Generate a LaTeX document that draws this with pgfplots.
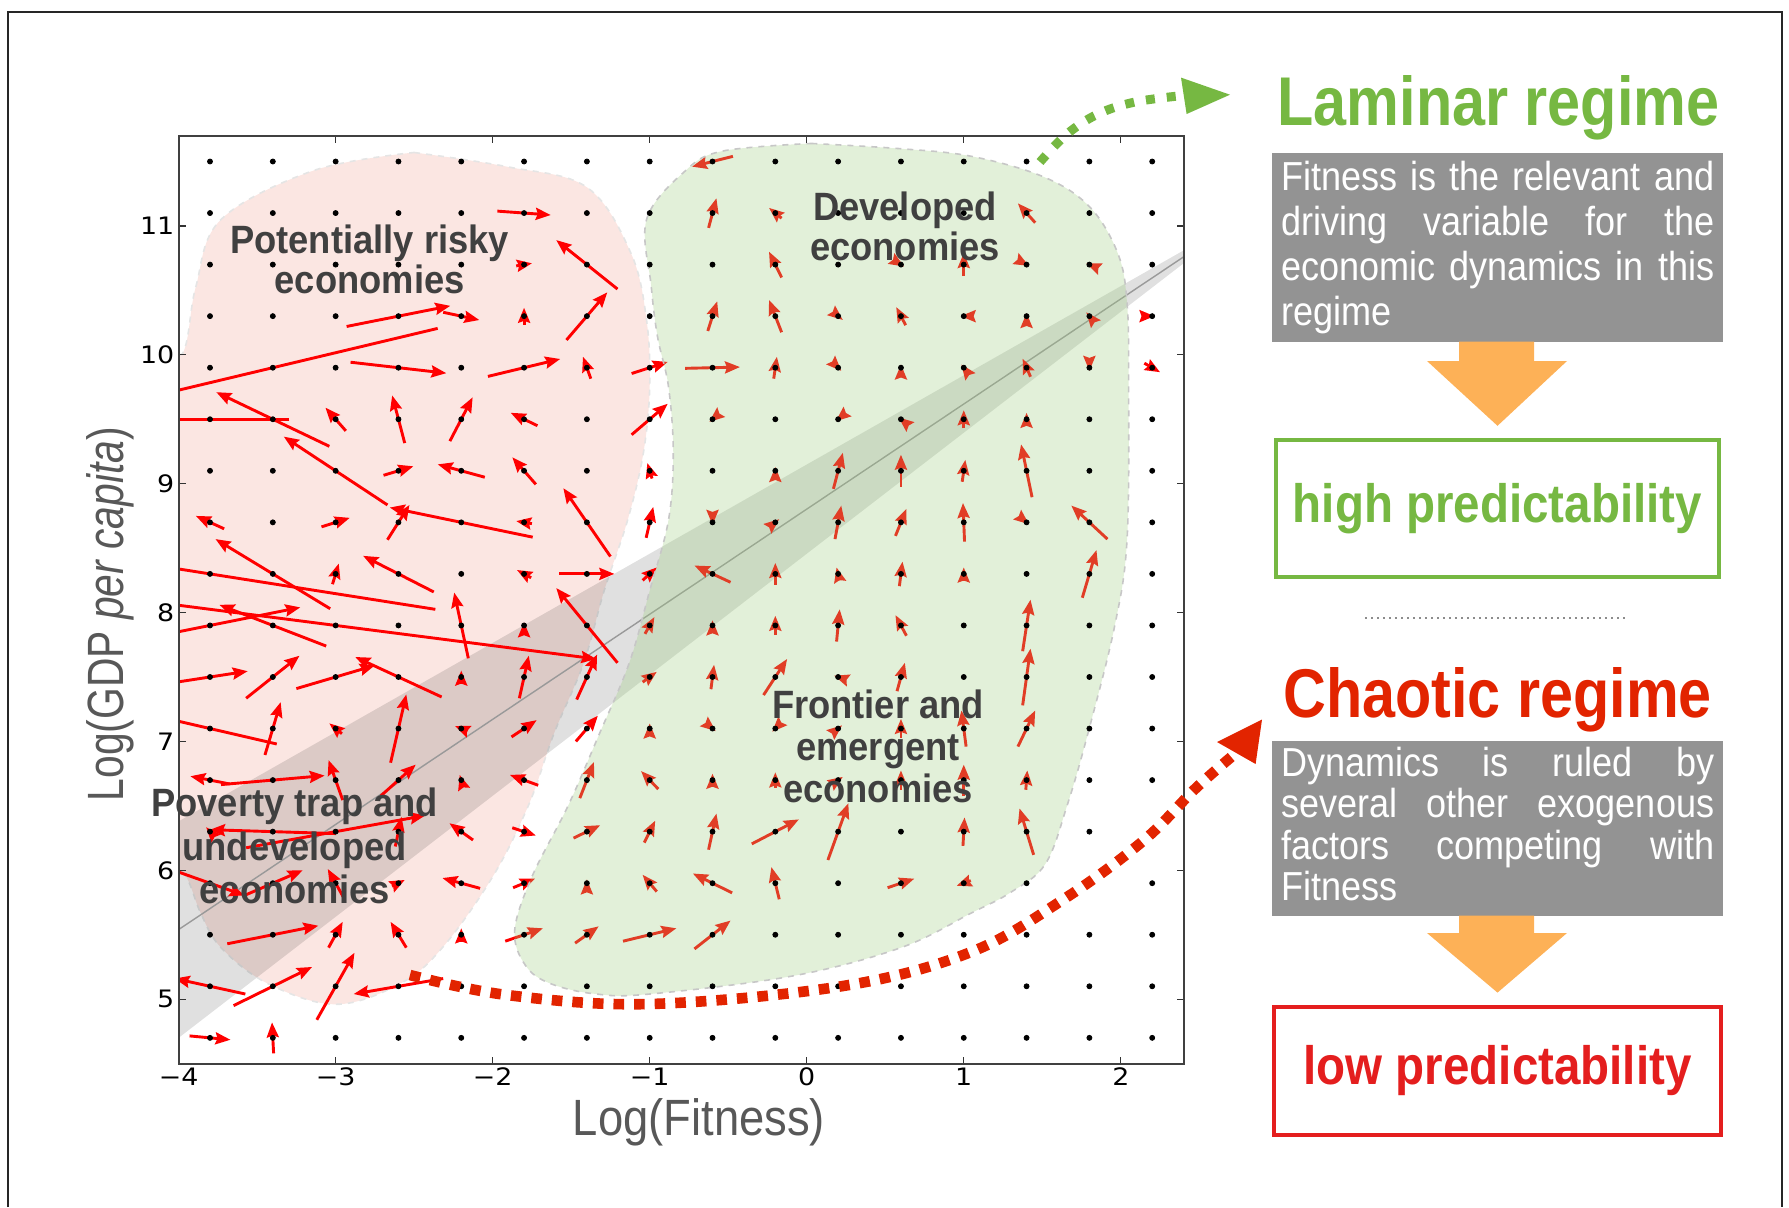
\documentclass[border=0pt]{standalone}
\usepackage{fontspec}
\usepackage{pgfplots}
\pgfplotsset{compat=1.18}
\usepackage{pgfplotstable}
\usetikzlibrary{arrows.meta}
\setmainfont{Liberation Sans}
\newfontfamily\tickfont[FakeStretch=1.12]{DejaVu Sans}
\newfontfamily\labfont[FakeStretch=0.89]{Liberation Sans}
\newfontfamily\ylabfont[FakeStretch=0.80]{Liberation Sans}
\newfontfamily\boxfont[FakeStretch=0.89]{Liberation Sans}
\newfontfamily\regfont[FakeStretch=0.92]{Liberation Sans}
\newfontfamily\headfont[FakeStretch=0.86]{Liberation Sans}
\newfontfamily\predfont[FakeStretch=0.88]{Liberation Sans}

\definecolor{pinkreg}{RGB}{251,230,226}
\definecolor{greenov}{RGB}{158,205,128}
\definecolor{lamgreen}{RGB}{118,184,66}
\definecolor{chared}{RGB}{226,36,0}
\definecolor{lowred}{RGB}{228,30,30}
\definecolor{boxgrey}{RGB}{147,147,147}
\definecolor{orangearr}{RGB}{253,177,87}
\definecolor{labgrey}{RGB}{88,88,88}
\definecolor{reggrey}{RGB}{64,64,64}

% quiver field: grid point (x,y), vector (u,v); arrows are centred on the point
\pgfplotstableread{
x y u v
-1.8 11.1 0.34 -0.03
-1.8 10.7 0.10 0.02
-1.4 10.7 -0.39 0.38
-2.6 10.3 0.66 0.16
-2.2 10.3 0.23 -0.06
-1.8 10.3 0.00 0.13
-1.4 10.3 0.26 0.37
-3.4 9.9 -2.10 -0.61
-2.6 9.9 0.61 -0.085
-1.8 9.9 0.46 0.135
-1.4 9.9 -0.05 0.17
-1.0 9.9 0.23 0.09
-3.8 9.5 -1.01 0.00
-3.4 9.5 -0.72 0.42
-3.0 9.5 -0.13 0.18
-2.6 9.5 -0.08 0.37
-2.2 9.5 0.145 0.34
-1.8 9.5 -0.17 0.10
-1.0 9.5 0.23 0.24
-3.0 9.1 -0.66 0.53
-2.6 9.1 0.19 0.07
-2.2 9.1 -0.30 0.10
-1.8 9.1 -0.15 0.21
-1.0 9.1 -0.03 0.12
-3.8 8.7 -0.18 0.10
-3.0 8.7 0.18 0.07
-2.6 8.7 0.14 0.27
-2.2 8.7 -0.91 0.23
-1.8 8.7 -0.10 0.02
-1.4 8.7 -0.30 0.53
-1.0 8.7 0.045 0.24
-3.8 8.3 -2.87 0.55
-3.4 8.3 -0.73 0.54
-3.0 8.3 0.04 0.16
-2.6 8.3 -0.45 0.28
-1.8 8.3 -0.09 0.06
-1.4 8.3 0.35 0.00
-1.0 8.3 0.09 0.10
-3.0 7.9 3.32 -0.52
-3.8 7.9 1.15 0.28
-3.4 7.9 -0.68 0.32
-2.2 7.9 -0.09 0.51
-1.8 7.9 0.00 0.05
-1.4 7.9 -0.39 0.58
-1.0 7.9 0.06 0.13
-3.8 7.5 0.48 0.09
-3.4 7.5 0.34 0.33
-3.0 7.5 0.50 0.18
-2.6 7.5 -0.55 0.31
-2.2 7.5 0.00 0.10
-1.8 7.5 0.06 0.33
-1.4 7.5 0.13 0.35
-1.0 7.5 0.09 0.08
-3.8 7.1 -0.85 0.24
-3.4 7.1 0.10 0.41
-3.0 7.1 -0.08 0.08
-2.6 7.1 0.10 0.53
-2.2 7.1 -0.08 0.04
-1.8 7.1 0.16 0.13
-1.4 7.1 0.14 0.20
-1.0 7.1 0.00 0.08
-3.8 6.7 -0.25 0.06
-3.4 6.7 0.66 0.07
-3.0 6.7 -0.09 0.31
-2.6 6.7 0.22 0.24
-2.2 6.7 -0.02 0.08
-1.8 6.7 -0.18 0.08
-1.4 6.7 0.09 0.28
-1.0 6.7 -0.11 0.14
-3.8 6.3 -0.05 0.07
-3.4 6.3 -0.80 0.03
-3.0 6.3 1.14 0.25
-2.6 6.3 0.04 0.23
-2.2 6.3 -0.15 0.13
-1.8 6.3 0.15 -0.06
-1.4 6.3 0.17 0.10
-1.0 6.3 0.07 0.17
-3.8 5.9 0.44 -0.19
-3.4 5.9 0.38 0.20
-3.0 5.9 -0.10 0.22
-2.6 5.9 0.08 0.05
-2.2 5.9 -0.24 0.08
-1.8 5.9 0.14 0.07
-1.4 5.9 0.00 0.06
-1.0 5.9 -0.09 0.13
-3.4 5.5 0.58 0.14
-3.0 5.5 0.09 0.20
-2.6 5.5 -0.10 0.20
-2.2 5.5 0.00 0.10
-1.8 5.5 0.24 0.10
-1.4 5.5 0.15 0.13
-1.0 5.5 0.34 0.10
-3.8 5.1 -0.45 0.12
-3.4 5.1 0.50 0.30
-3.0 5.1 0.24 0.52
-2.6 5.1 -0.57 -0.12
-3.8 4.7 0.26 -0.03
-3.4 4.7 -0.01 0.24
-0.6 11.5 -0.26 -0.08
-0.6 11.1 0.05 0.23
-0.2 11.1 -0.08 0.08
1.4 11.1 -0.11 0.15
-0.2 10.7 -0.08 0.20
0.6 10.7 0.04 -0.03
1.0 10.7 0.00 0.18
1.4 10.7 0.03 -0.02
1.8 10.7 -0.04 0.02
-0.6 10.3 0.06 0.23
-0.2 10.3 -0.08 0.25
0.2 10.3 0.06 -0.06
0.6 10.3 -0.06 0.14
1.0 10.3 -0.04 0.00
1.4 10.3 0.00 0.05
1.8 10.3 -0.04 0.06
2.2 10.3 0.03 0.00
-0.6 9.9 0.35 0.01
-0.2 9.9 0.02 0.17
0.2 9.9 0.04 -0.05
0.6 9.9 0.00 0.05
1.0 9.9 -0.03 0.05
1.4 9.9 -0.05 0.14
1.8 9.9 0.00 -0.05
2.2 9.9 0.10 -0.07
-0.6 9.5 -0.04 -0.04
0.2 9.5 -0.03 -0.03
0.6 9.5 -0.03 0.03
1.0 9.5 0.00 0.14
1.4 9.5 0.00 0.10
-0.2 9.1 0.00 0.06
0.2 9.1 0.06 0.28
0.6 9.1 0.00 0.25
1.0 9.1 0.02 0.17
1.4 9.1 -0.07 0.41
-0.6 8.7 0.00 -0.04
-0.2 8.7 0.05 0.05
0.2 8.7 0.04 0.26
0.6 8.7 0.07 0.21
1.0 8.7 -0.01 0.30
1.4 8.7 0.03 -0.03
1.8 8.7 -0.23 0.26
-0.6 8.3 -0.23 0.13
-0.2 8.3 0.00 0.17
0.2 8.3 -0.02 0.10
0.6 8.3 0.02 0.19
1.0 8.3 0.00 0.10
1.8 8.3 0.09 0.37
-0.6 7.9 0.00 0.08
-0.2 7.9 0.00 0.15
0.2 7.9 0.02 0.25
0.6 7.9 -0.07 0.16
1.4 7.9 0.05 0.40
-0.6 7.5 0.02 0.19
-0.2 7.5 0.15 0.28
0.2 7.5 -0.05 0.02
0.6 7.5 0.05 0.22
1.4 7.5 0.05 0.44
-0.6 7.1 0.04 -0.04
-0.2 7.1 -0.04 -0.05
0.2 7.1 0.05 0.05
0.6 7.1 0.00 0.15
1.0 7.1 -0.03 0.28
1.4 7.1 0.11 0.28
-0.6 6.7 0.00 0.10
-0.2 6.7 0.00 0.12
0.2 6.7 0.06 0.05
0.6 6.7 0.00 0.15
1.0 6.7 0.00 0.24
1.4 6.7 0.01 0.15
-0.6 6.3 0.05 0.28
-0.2 6.3 0.30 0.19
0.2 6.3 0.13 0.44
1.0 6.3 0.01 0.22
1.4 6.3 -0.09 0.36
-0.6 5.9 -0.25 0.15
-0.2 5.9 -0.05 0.25
0.6 5.9 0.17 0.07
1.0 5.9 -0.09 -0.04
-0.6 5.5 0.23 0.22
}\quivtab

\begin{document}
\begin{tikzpicture}
\useasboundingbox (0,0) rectangle (894.5pt,-603.5pt);
\begin{axis}[
  at={(89.3pt,-531.8pt)}, anchor=south west,
  scale only axis, width=502.5pt, height=463.95pt,
  xmin=-4, xmax=2.4, ymin=4.5, ymax=11.7,
  xtick={-4,-3,-2,-1,0,1,2},
  xticklabels={−4,−3,−2,−1,0,1,2},
  ytick={5,6,7,8,9,10,11},
  yticklabels={5,6,7,8,9,10,11},
  tick align=inside, major tick length=3.5pt,
  tick style={black!80, line width=0.6pt},
  axis line style={black!75, line width=1pt},
  every tick label/.append style={font=\tickfont\fontsize{12}{13}\selectfont, inner sep=2pt},
  xticklabel style={font=\tickfont\fontsize{12}{13}\selectfont},
  yticklabel style={font=\tickfont\fontsize{12}{13}\selectfont},
  axis on top,
]
% pink region
\addplot[draw=black!10, dashed, line width=0.8pt, fill=pinkreg, smooth, tension=0.6] coordinates {
  (-2.5,11.57) (-1.91,11.46) (-1.40,11.30) (-1.12,10.79) (-1.02,10.27) (-1.0,9.75)
  (-1.04,9.24) (-1.14,8.72) (-1.29,8.17) (-1.42,7.61) (-1.61,7.06) (-1.77,6.51)
  (-2.0,5.95) (-2.32,5.40) (-2.59,5.12) (-3.0,4.96) (-3.43,5.12) (-3.73,5.40)
  (-3.86,5.67) (-3.95,5.95) (-4.15,6.4) (-4.15,9.8) (-3.97,10.02) (-3.89,10.53)
  (-3.73,11.05) (-3.14,11.43) (-2.5,11.57)
} -- cycle;
% regression band and line
\addplot[draw=none, fill=black, fill opacity=0.12] coordinates {
  (-4,6.38) (2.4,10.81) (2.4,10.71) (-4,4.7)
} -- cycle;
\addplot[black!40, line width=0.7pt] coordinates {(-4,5.54) (2.4,10.76)};
% quiver arrows
\addplot[red, line width=1.45pt, -{Stealth[length=7.5pt,width=6pt,inset=1pt]},
  quiver={u=\thisrow{u}, v=\thisrow{v}}]
  table[x expr=\thisrow{x}-0.5*\thisrow{u}, y expr=\thisrow{y}-0.5*\thisrow{v}] {\quivtab};
% grid dots
\addplot[only marks, mark=*, mark size=1.25pt, black] coordinates {
(-3.8,4.7) (-3.4,4.7) (-3,4.7) (-2.6,4.7) (-2.2,4.7) (-1.8,4.7) (-1.4,4.7) (-1,4.7) (-0.6,4.7) (-0.2,4.7) (0.2,4.7) (0.6,4.7) (1,4.7) (1.4,4.7) (1.8,4.7) (2.2,4.7)
(-3.8,5.1) (-3.4,5.1) (-3,5.1) (-2.6,5.1) (-2.2,5.1) (-1.8,5.1) (-1.4,5.1) (-1,5.1) (-0.6,5.1) (-0.2,5.1) (0.2,5.1) (0.6,5.1) (1,5.1) (1.4,5.1) (1.8,5.1) (2.2,5.1)
(-3.8,5.5) (-3.4,5.5) (-3,5.5) (-2.6,5.5) (-2.2,5.5) (-1.8,5.5) (-1.4,5.5) (-1,5.5) (-0.6,5.5) (-0.2,5.5) (0.2,5.5) (0.6,5.5) (1,5.5) (1.4,5.5) (1.8,5.5) (2.2,5.5)
(-3.8,5.9) (-3.4,5.9) (-3,5.9) (-2.6,5.9) (-2.2,5.9) (-1.8,5.9) (-1.4,5.9) (-1,5.9) (-0.6,5.9) (-0.2,5.9) (0.2,5.9) (0.6,5.9) (1,5.9) (1.4,5.9) (1.8,5.9) (2.2,5.9)
(-3.8,6.3) (-3.4,6.3) (-3,6.3) (-2.6,6.3) (-2.2,6.3) (-1.8,6.3) (-1.4,6.3) (-1,6.3) (-0.6,6.3) (-0.2,6.3) (0.2,6.3) (0.6,6.3) (1,6.3) (1.4,6.3) (1.8,6.3) (2.2,6.3)
(-3.8,6.7) (-3.4,6.7) (-3,6.7) (-2.6,6.7) (-2.2,6.7) (-1.8,6.7) (-1.4,6.7) (-1,6.7) (-0.6,6.7) (-0.2,6.7) (0.2,6.7) (0.6,6.7) (1,6.7) (1.4,6.7) (1.8,6.7) (2.2,6.7)
(-3.8,7.1) (-3.4,7.1) (-3,7.1) (-2.6,7.1) (-2.2,7.1) (-1.8,7.1) (-1.4,7.1) (-1,7.1) (-0.6,7.1) (-0.2,7.1) (0.2,7.1) (0.6,7.1) (1,7.1) (1.4,7.1) (1.8,7.1) (2.2,7.1)
(-3.8,7.5) (-3.4,7.5) (-3,7.5) (-2.6,7.5) (-2.2,7.5) (-1.8,7.5) (-1.4,7.5) (-1,7.5) (-0.6,7.5) (-0.2,7.5) (0.2,7.5) (0.6,7.5) (1,7.5) (1.4,7.5) (1.8,7.5) (2.2,7.5)
(-3.8,7.9) (-3.4,7.9) (-3,7.9) (-2.6,7.9) (-2.2,7.9) (-1.8,7.9) (-1.4,7.9) (-1,7.9) (-0.6,7.9) (-0.2,7.9) (0.2,7.9) (0.6,7.9) (1,7.9) (1.4,7.9) (1.8,7.9) (2.2,7.9)
(-3.8,8.3) (-3.4,8.3) (-3,8.3) (-2.6,8.3) (-2.2,8.3) (-1.8,8.3) (-1.4,8.3) (-1,8.3) (-0.6,8.3) (-0.2,8.3) (0.2,8.3) (0.6,8.3) (1,8.3) (1.4,8.3) (1.8,8.3) (2.2,8.3)
(-3.8,8.7) (-3.4,8.7) (-3,8.7) (-2.6,8.7) (-2.2,8.7) (-1.8,8.7) (-1.4,8.7) (-1,8.7) (-0.6,8.7) (-0.2,8.7) (0.2,8.7) (0.6,8.7) (1,8.7) (1.4,8.7) (1.8,8.7) (2.2,8.7)
(-3.8,9.1) (-3.4,9.1) (-3,9.1) (-2.6,9.1) (-2.2,9.1) (-1.8,9.1) (-1.4,9.1) (-1,9.1) (-0.6,9.1) (-0.2,9.1) (0.2,9.1) (0.6,9.1) (1,9.1) (1.4,9.1) (1.8,9.1) (2.2,9.1)
(-3.8,9.5) (-3.4,9.5) (-3,9.5) (-2.6,9.5) (-2.2,9.5) (-1.8,9.5) (-1.4,9.5) (-1,9.5) (-0.6,9.5) (-0.2,9.5) (0.2,9.5) (0.6,9.5) (1,9.5) (1.4,9.5) (1.8,9.5) (2.2,9.5)
(-3.8,9.9) (-3.4,9.9) (-3,9.9) (-2.6,9.9) (-2.2,9.9) (-1.8,9.9) (-1.4,9.9) (-1,9.9) (-0.6,9.9) (-0.2,9.9) (0.2,9.9) (0.6,9.9) (1,9.9) (1.4,9.9) (1.8,9.9) (2.2,9.9)
(-3.8,10.3) (-3.4,10.3) (-3,10.3) (-2.6,10.3) (-2.2,10.3) (-1.8,10.3) (-1.4,10.3) (-1,10.3) (-0.6,10.3) (-0.2,10.3) (0.2,10.3) (0.6,10.3) (1,10.3) (1.4,10.3) (1.8,10.3) (2.2,10.3)
(-3.8,10.7) (-3.4,10.7) (-3,10.7) (-2.6,10.7) (-2.2,10.7) (-1.8,10.7) (-1.4,10.7) (-1,10.7) (-0.6,10.7) (-0.2,10.7) (0.2,10.7) (0.6,10.7) (1,10.7) (1.4,10.7) (1.8,10.7) (2.2,10.7)
(-3.8,11.1) (-3.4,11.1) (-3,11.1) (-2.6,11.1) (-2.2,11.1) (-1.8,11.1) (-1.4,11.1) (-1,11.1) (-0.6,11.1) (-0.2,11.1) (0.2,11.1) (0.6,11.1) (1,11.1) (1.4,11.1) (1.8,11.1) (2.2,11.1)
(-3.8,11.5) (-3.4,11.5) (-3,11.5) (-2.6,11.5) (-2.2,11.5) (-1.8,11.5) (-1.4,11.5) (-1,11.5) (-0.6,11.5) (-0.2,11.5) (0.2,11.5) (0.6,11.5) (1,11.5) (1.4,11.5) (1.8,11.5) (2.2,11.5)
};
% green region, laid over the field
\addplot[draw=black!22, dashed, line width=0.8pt, fill=greenov, fill opacity=0.3, smooth, tension=0.6] coordinates {
  (0.03,11.64) (0.59,11.60) (1.05,11.54) (1.51,11.38) (1.80,11.15) (1.98,10.79)
  (2.04,10.40) (2.05,9.75) (2.04,8.57) (1.96,7.89) (1.79,7.06) (1.66,6.51)
  (1.52,6.05) (1.30,5.83) (1.05,5.67) (0.60,5.40) (-0.09,5.18) (-1.0,5.04)
  (-1.34,5.04) (-1.63,5.12) (-1.79,5.26) (-1.86,5.53) (-1.75,5.95) (-1.52,6.50)
  (-1.32,7.06) (-1.13,7.61) (-1.0,8.17) (-0.88,8.72) (-0.85,9.24) (-0.88,9.75)
  (-0.95,10.14) (-0.99,10.53) (-1.02,11.05) (-0.78,11.42) (-0.54,11.58) (0.03,11.64)
} -- cycle;
\end{axis}

\begin{scope}[x=0.5pt,y=-0.5pt]
% outer frame
\draw[black!85, line width=1pt] (8,1207) -- (8,12) -- (1782,12) -- (1782,1207);
% axis labels
\node[anchor=base, inner sep=0, labgrey, font=\labfont\fontsize{25.5}{28}\selectfont] at (699,1135) {Log(Fitness)};
\node[anchor=base, inner sep=0, rotate=90, labgrey, font=\ylabfont\fontsize{25.5}{28}\selectfont] at (123.3,614) {Log(GDP \textit{per capita})};
% region labels
\begin{scope}[every node/.style={anchor=base, inner sep=0, reggrey, font=\regfont\bfseries\fontsize{19.75}{21}\selectfont}]
\node at (369.6,253.3) {Potentially risky};
\node at (369.6,293.3) {economies};
\node at (905,220) {Developed};
\node at (905,260) {economies};
\node at (878,718) {Frontier and};
\node at (878,760) {emergent};
\node at (878,802) {economies};
\node at (294.6,816.7) {Poverty trap and};
\node at (294.6,860) {undeveloped};
\node at (294.6,903.3) {economies};
\end{scope}
% dotted pointers
\draw[lamgreen, line width=4.5pt, dash pattern=on 4.5pt off 6pt] plot[smooth, tension=0.6] coordinates {(1040,162) (1067,134) (1098,114) (1135,102) (1183,95.5)};
\fill[lamgreen] (1181,77.6) -- (1230,94.7) -- (1186.6,114) -- cycle;
\draw[chared, line width=5.3pt, dash pattern=on 5.3pt off 5pt] plot[smooth, tension=0.6] coordinates {(410,975) (507,995) (650,1004) (843,986) (971,952) (1064,899) (1143,841) (1196,788) (1236,753)};
\fill[chared] (1217,742) -- (1262,719.5) -- (1255.6,764) -- cycle;
% right panel: laminar
\node[anchor=base, inner sep=0, lamgreen, font=\headfont\bfseries\fontsize{34.5}{36}\selectfont] at (1498.5,125.6) {Laminar regime};
\fill[boxgrey] (1272,153.4) rectangle (1723,341.6);
\node[anchor=base west, inner sep=0, white, font=\boxfont\fontsize{20.25}{22.5}\selectfont] at (1280.8,190)
  {\parbox[t]{216.5pt}{Fitness is the relevant and\linebreak driving variable for the\linebreak economic dynamics in this\linebreak regime}};
\fill[orangearr] (1459,341.6) -- (1534,341.6) -- (1534,361) -- (1567,361) -- (1497.5,425.8) -- (1427,361) -- (1459,361) -- cycle;
\draw[lamgreen, line width=2pt] (1276,440) rectangle (1719,577);
\node[anchor=base, inner sep=0, lamgreen, font=\predfont\bfseries\fontsize{27}{30}\selectfont] at (1497.5,522.7) {high predictability};
% separator
\draw[black!45, line width=0.6pt, dash pattern=on 1pt off 2pt] (1365,618) -- (1626,618);
% right panel: chaotic
\node[anchor=base, inner sep=0, chared, font=\headfont\bfseries\fontsize{34.5}{36}\selectfont] at (1497.7,717.6) {Chaotic regime};
\fill[boxgrey] (1272,741) rectangle (1723,915.6);
\node[anchor=base west, inner sep=0, white, font=\boxfont\fontsize{20.25}{20.65}\selectfont] at (1280.8,776.6)
  {\parbox[t]{216.5pt}{Dynamics is ruled by\linebreak several other exogenous\linebreak factors competing with\linebreak Fitness}};
\fill[orangearr] (1459,915.6) -- (1534,915.6) -- (1534,933) -- (1567,933) -- (1497.5,992.6) -- (1427,933) -- (1459,933) -- cycle;
\draw[lowred, line width=2.2pt] (1274.2,1006.8) rectangle (1720.8,1134.8);
\node[anchor=base, inner sep=0, lowred, font=\predfont\bfseries\fontsize{27}{30}\selectfont] at (1497.5,1084.6) {low predictability};
\end{scope}
\end{tikzpicture}
\end{document}
